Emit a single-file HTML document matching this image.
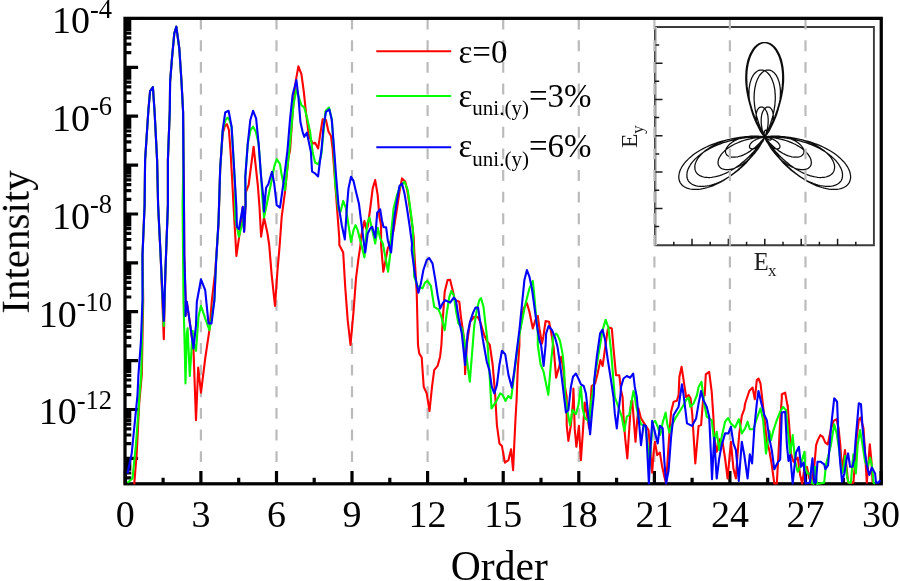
<!DOCTYPE html>
<html><head><meta charset="utf-8"><title>chart</title>
<style>html,body{margin:0;padding:0;background:#fff}body{width:900px;height:581px;overflow:hidden}</style></head>
<body>
<svg width="900" height="581" viewBox="0 0 900 581" style="display:block">
<rect width="900" height="581" fill="#fff"/>
<g opacity="0.9999">
<defs><filter id="bl" x="-5%" y="-5%" width="110%" height="110%"><feGaussianBlur stdDeviation="0.38"/></filter></defs>
<g id="inset" filter="url(#bl)">
<path d="M770.6,137.9 L770.8,138.0 L770.9,138.2 L771.0,138.3 L771.1,138.4 L771.1,138.6 L771.2,138.7 L771.2,138.8 L771.3,139.0 L771.3,139.1 L771.3,139.2 L771.2,139.3 L771.2,139.4 L771.1,139.5 L771.1,139.6 L771.0,139.7 L770.9,139.8 L770.8,139.9 L770.6,139.9 L770.5,140.0 L770.3,140.0 L770.1,140.0 L769.9,140.0 L769.7,140.0 L769.4,139.9 L769.2,139.9 L768.9,139.8 L768.7,139.7 L768.4,139.6 L768.1,139.5 L767.8,139.3 L767.5,139.2 L767.2,139.0 L766.9,138.8 L766.5,138.6 L766.2,138.3 L765.9,138.1 L765.5,137.8 L765.2,137.5 L764.9,137.2 L764.6,137.2 L764.5,137.7 L764.3,138.2 L764.1,138.7 L763.9,139.1 L763.7,139.6 L763.5,140.1 L763.2,140.6 L763.0,141.1 L762.7,141.5 L762.4,142.0 L762.1,142.5 L761.7,142.9 L761.4,143.4 L761.0,143.8 L760.7,144.3 L760.3,144.7 L759.9,145.1 L759.5,145.5 L759.1,145.8 L758.6,146.2 L758.2,146.5 L757.8,146.9 L757.3,147.2 L756.9,147.4 L756.4,147.7 L756.0,147.9 L755.6,148.1 L755.1,148.3 L754.7,148.5 L754.3,148.6 L753.9,148.7 L753.5,148.8 L753.1,148.9 L752.7,148.9 L752.3,148.9 L751.9,148.9 L751.6,148.8 L751.3,148.8 L751.0,148.7 L750.7,148.6 L750.5,148.4 L750.2,148.3 L750.0,148.1 L749.9,147.9 L749.7,147.6 L749.6,147.4 L749.5,147.1 L749.5,146.8 L749.5,146.5 L749.5,146.2 L749.5,145.9 L749.6,145.5 L749.7,145.2 L749.9,144.8 L750.1,144.5 L750.3,144.1 L750.6,143.7 L750.9,143.3 L751.2,142.9 L751.6,142.5 L752.0,142.1 L752.5,141.7 L753.0,141.3 L753.5,141.0 L754.1,140.6 L754.7,140.2 L755.4,139.9 L756.0,139.5 L756.7,139.2 L757.5,138.9 L758.2,138.6 L759.0,138.3 L759.8,138.0 L760.7,137.8 L761.6,137.6 L762.5,137.4 L763.4,137.2 L764.3,137.1 L764.3,136.6 L763.7,135.8 L763.1,135.1 L762.5,134.3 L761.9,133.5 L761.4,132.7 L760.8,131.8 L760.3,131.0 L759.8,130.1 L759.4,129.2 L758.9,128.3 L758.5,127.4 L758.1,126.4 L757.8,125.5 L757.5,124.6 L757.2,123.6 L756.9,122.7 L756.7,121.8 L756.5,120.9 L756.4,120.0 L756.3,119.1 L756.2,118.2 L756.1,117.3 L756.1,116.5 L756.1,115.7 L756.2,114.9 L756.2,114.1 L756.4,113.3 L756.5,112.6 L756.7,111.9 L756.9,111.3 L757.1,110.7 L757.3,110.1 L757.6,109.6 L757.9,109.1 L758.3,108.7 L758.6,108.3 L759.0,107.9 L759.3,107.6 L759.7,107.4 L760.1,107.2 L760.6,107.1 L761.0,107.0 L761.4,107.0 L761.9,107.0 L762.3,107.1 L762.7,107.2 L763.2,107.4 L763.6,107.7 L764.0,108.0 L764.5,108.4 L764.9,108.8 L765.3,109.3 L765.6,109.8 L766.0,110.4 L766.3,111.0 L766.7,111.7 L767.0,112.5 L767.2,113.3 L767.5,114.1 L767.7,115.0 L767.9,116.0 L768.0,117.0 L768.1,118.0 L768.2,119.0 L768.2,120.1 L768.2,121.3 L768.2,122.4 L768.1,123.6 L768.0,124.8 L767.8,126.1 L767.6,127.3 L767.4,128.6 L767.1,129.9 L766.7,131.2 L766.3,132.5 L765.9,133.9 L765.4,135.2 L764.9,136.5 L765.6,136.8 L767.0,136.6 L768.5,136.4 L769.9,136.3 L771.4,136.2 L772.8,136.1 L774.3,136.1 L775.8,136.1 L777.2,136.1 L778.7,136.2 L780.1,136.4 L781.6,136.6 L783.0,136.8 L784.4,137.0 L785.7,137.4 L787.1,137.7 L788.4,138.1 L789.6,138.5 L790.9,138.9 L792.0,139.4 L793.2,139.9 L794.3,140.5 L795.3,141.0 L796.3,141.6 L797.3,142.2 L798.2,142.9 L799.0,143.5 L799.8,144.2 L800.5,144.9 L801.1,145.6 L801.7,146.3 L802.2,147.0 L802.7,147.7 L803.1,148.4 L803.4,149.1 L803.6,149.7 L803.8,150.4 L803.9,151.1 L803.9,151.7 L803.8,152.3 L803.7,152.9 L803.5,153.5 L803.2,154.0 L802.9,154.5 L802.5,155.0 L802.0,155.5 L801.5,155.8 L800.9,156.2 L800.2,156.5 L799.5,156.8 L798.7,157.0 L797.9,157.1 L797.0,157.2 L796.1,157.2 L795.1,157.2 L794.0,157.1 L793.0,157.0 L791.8,156.8 L790.7,156.5 L789.5,156.2 L788.3,155.8 L787.0,155.3 L785.7,154.8 L784.4,154.1 L783.1,153.5 L781.8,152.7 L780.5,151.9 L779.1,151.1 L777.8,150.1 L776.4,149.1 L775.1,148.1 L773.8,146.9 L772.5,145.7 L771.2,144.5 L769.9,143.2 L768.7,141.8 L767.4,140.4 L766.2,139.0 L765.1,137.5 L764.2,138.2 L763.3,139.9 L762.4,141.6 L761.5,143.3 L760.5,145.0 L759.5,146.6 L758.4,148.3 L757.3,149.8 L756.1,151.3 L755.0,152.8 L753.7,154.3 L752.5,155.7 L751.2,157.0 L749.9,158.3 L748.5,159.5 L747.2,160.7 L745.8,161.8 L744.4,162.8 L743.1,163.8 L741.7,164.7 L740.3,165.5 L738.9,166.2 L737.6,166.9 L736.2,167.5 L734.9,168.0 L733.6,168.5 L732.3,168.9 L731.0,169.2 L729.8,169.4 L728.6,169.6 L727.5,169.6 L726.4,169.6 L725.4,169.6 L724.4,169.4 L723.5,169.2 L722.6,168.9 L721.8,168.6 L721.1,168.2 L720.5,167.7 L719.9,167.2 L719.4,166.6 L718.9,165.9 L718.6,165.2 L718.3,164.5 L718.1,163.7 L718.1,162.9 L718.1,162.0 L718.2,161.1 L718.4,160.2 L718.6,159.2 L719.0,158.3 L719.5,157.3 L720.1,156.3 L720.8,155.2 L721.5,154.2 L722.4,153.2 L723.4,152.1 L724.4,151.1 L725.6,150.1 L726.8,149.1 L728.1,148.1 L729.6,147.1 L731.1,146.1 L732.6,145.2 L734.3,144.3 L736.1,143.5 L737.9,142.7 L739.8,141.9 L741.7,141.2 L743.7,140.5 L745.8,139.9 L748.0,139.3 L750.1,138.8 L752.4,138.3 L754.6,138.0 L757.0,137.6 L759.3,137.4 L761.7,137.2 L764.1,137.0 L763.7,135.6 L762.3,133.6 L761.0,131.5 L759.7,129.4 L758.5,127.3 L757.4,125.2 L756.3,123.0 L755.3,120.8 L754.4,118.6 L753.5,116.4 L752.7,114.2 L752.0,111.9 L751.3,109.7 L750.8,107.5 L750.3,105.3 L749.9,103.1 L749.5,101.0 L749.3,98.9 L749.1,96.8 L749.0,94.7 L749.0,92.8 L749.0,90.8 L749.1,88.9 L749.3,87.1 L749.6,85.4 L749.9,83.7 L750.3,82.1 L750.8,80.6 L751.3,79.2 L751.8,77.8 L752.5,76.6 L753.1,75.4 L753.9,74.4 L754.6,73.5 L755.4,72.6 L756.3,71.9 L757.1,71.3 L758.0,70.8 L758.9,70.4 L759.9,70.1 L760.8,70.0 L761.8,70.0 L762.7,70.2 L763.7,70.4 L764.6,70.8 L765.6,71.3 L766.5,71.9 L767.4,72.7 L768.2,73.5 L769.1,74.5 L769.9,75.5 L770.6,76.7 L771.3,78.0 L772.0,79.4 L772.6,81.0 L773.2,82.6 L773.7,84.3 L774.1,86.1 L774.5,88.0 L774.8,89.9 L775.0,92.0 L775.2,94.1 L775.3,96.3 L775.3,98.6 L775.2,100.9 L775.0,103.3 L774.8,105.7 L774.4,108.1 L774.0,110.6 L773.5,113.2 L772.9,115.7 L772.2,118.3 L771.4,120.9 L770.6,123.5 L769.6,126.1 L768.6,128.7 L767.5,131.3 L766.3,133.9 L765.0,136.5 L767.0,136.8 L769.8,136.6 L772.7,136.4 L775.6,136.4 L778.4,136.4 L781.3,136.5 L784.1,136.7 L787.0,137.0 L789.8,137.3 L792.5,137.8 L795.2,138.3 L797.9,138.8 L800.5,139.5 L803.0,140.2 L805.5,141.0 L807.9,141.9 L810.3,142.8 L812.5,143.8 L814.7,144.8 L816.7,145.9 L818.7,147.0 L820.6,148.2 L822.4,149.4 L824.0,150.6 L825.6,151.9 L827.0,153.2 L828.3,154.5 L829.5,155.8 L830.6,157.1 L831.6,158.5 L832.4,159.8 L833.1,161.1 L833.6,162.4 L834.1,163.7 L834.4,165.0 L834.6,166.2 L834.6,167.4 L834.5,168.5 L834.3,169.6 L834.0,170.7 L833.5,171.7 L833.0,172.6 L832.3,173.5 L831.5,174.3 L830.5,175.0 L829.5,175.6 L828.3,176.2 L827.1,176.6 L825.7,177.0 L824.3,177.3 L822.7,177.4 L821.1,177.5 L819.4,177.5 L817.6,177.3 L815.8,177.0 L813.8,176.7 L811.8,176.2 L809.8,175.6 L807.7,174.9 L805.6,174.0 L803.4,173.1 L801.2,172.0 L799.0,170.8 L796.7,169.5 L794.4,168.1 L792.2,166.5 L789.9,164.9 L787.7,163.1 L785.4,161.2 L783.2,159.3 L781.0,157.2 L778.8,155.0 L776.7,152.8 L774.6,150.4 L772.6,148.0 L770.6,145.4 L768.6,142.8 L766.8,140.2 L765.0,137.4 L763.4,139.4 L761.7,142.3 L760.0,145.1 L758.2,147.8 L756.3,150.5 L754.4,153.2 L752.3,155.7 L750.3,158.2 L748.1,160.6 L746.0,163.0 L743.7,165.2 L741.5,167.3 L739.2,169.4 L736.8,171.3 L734.5,173.1 L732.1,174.8 L729.8,176.5 L727.4,177.9 L725.0,179.3 L722.7,180.6 L720.3,181.7 L718.0,182.7 L715.8,183.6 L713.5,184.4 L711.3,185.0 L709.2,185.5 L707.1,185.9 L705.1,186.2 L703.2,186.4 L701.3,186.4 L699.5,186.3 L697.8,186.1 L696.3,185.8 L694.8,185.4 L693.4,184.9 L692.1,184.2 L691.0,183.5 L690.0,182.7 L689.1,181.8 L688.3,180.8 L687.7,179.6 L687.3,178.5 L687.0,177.2 L686.9,175.9 L686.9,174.5 L687.0,173.1 L687.3,171.7 L687.7,170.2 L688.3,168.6 L689.1,167.1 L690.0,165.5 L691.0,163.9 L692.2,162.3 L693.6,160.7 L695.0,159.1 L696.7,157.6 L698.5,156.0 L700.4,154.5 L702.4,153.0 L704.6,151.5 L706.9,150.1 L709.4,148.7 L711.9,147.4 L714.6,146.1 L717.4,144.9 L720.3,143.8 L723.3,142.7 L726.4,141.8 L729.5,140.9 L732.8,140.1 L736.1,139.3 L739.5,138.7 L742.9,138.2 L746.4,137.7 L749.9,137.4 L753.5,137.1 L757.1,137.0 L760.7,136.9 L764.3,137.0 L763.0,134.2 L761.1,131.1 L759.4,127.9 L757.7,124.7 L756.2,121.4 L754.7,118.2 L753.4,114.8 L752.1,111.5 L751.0,108.2 L750.0,104.9 L749.1,101.6 L748.3,98.3 L747.6,95.0 L747.0,91.8 L746.5,88.6 L746.2,85.5 L745.9,82.4 L745.8,79.4 L745.8,76.5 L745.9,73.6 L746.1,70.9 L746.4,68.2 L746.8,65.6 L747.3,63.2 L747.8,60.8 L748.5,58.6 L749.3,56.5 L750.1,54.5 L751.0,52.7 L752.0,51.0 L753.0,49.4 L754.1,48.0 L755.2,46.7 L756.4,45.6 L757.6,44.7 L758.9,43.9 L760.2,43.3 L761.5,42.9 L762.8,42.6 L764.2,42.5 L765.5,42.6 L766.8,42.9 L768.2,43.4 L769.5,44.0 L770.7,44.8 L772.0,45.7 L773.2,46.9 L774.3,48.1 L775.4,49.5 L776.4,51.1 L777.4,52.9 L778.3,54.7 L779.2,56.7 L779.9,58.9 L780.6,61.2 L781.2,63.5 L781.7,66.1 L782.1,68.7 L782.4,71.4 L782.6,74.3 L782.7,77.2 L782.6,80.2 L782.5,83.3 L782.3,86.4 L781.9,89.6 L781.4,92.9 L780.8,96.2 L780.1,99.6 L779.3,103.0 L778.3,106.4 L777.3,109.8 L776.1,113.2 L774.8,116.7 L773.4,120.1 L771.9,123.5 L770.3,126.9 L768.5,130.3 L766.7,133.6 L764.8,136.8 L768.3,136.8 L772.1,136.7 L775.8,136.7 L779.6,136.8 L783.3,137.0 L787.1,137.4 L790.7,137.8 L794.3,138.3 L797.9,139.0 L801.4,139.7 L804.8,140.5 L808.2,141.4 L811.4,142.4 L814.6,143.5 L817.7,144.7 L820.6,145.9 L823.5,147.2 L826.2,148.6 L828.8,150.0 L831.3,151.5 L833.7,153.1 L835.9,154.6 L837.9,156.2 L839.9,157.9 L841.6,159.6 L843.2,161.2 L844.7,162.9 L846.0,164.6 L847.2,166.3 L848.1,168.0 L849.0,169.7 L849.6,171.3 L850.1,173.0 L850.4,174.5 L850.6,176.1 L850.6,177.5 L850.5,179.0 L850.1,180.3 L849.7,181.6 L849.1,182.8 L848.3,183.9 L847.4,185.0 L846.3,185.9 L845.1,186.7 L843.8,187.5 L842.3,188.1 L840.7,188.6 L839.0,189.0 L837.2,189.3 L835.3,189.4 L833.2,189.4 L831.1,189.3 L828.9,189.1 L826.6,188.7 L824.3,188.2 L821.8,187.5 L819.4,186.7 L816.8,185.8 L814.2,184.7 L811.6,183.5 L809.0,182.1 L806.3,180.6 L803.6,179.0 L801.0,177.2 L798.3,175.3 L795.6,173.3 L792.9,171.1 L790.3,168.8 L787.7,166.4 L785.1,163.9 L782.6,161.3 L780.1,158.6 L777.7,155.7 L775.3,152.8 L773.1,149.8 L770.8,146.7 L768.7,143.5 L766.7,140.3 L764.7,137.0 L762.7,140.3 L760.7,143.5 L758.6,146.7 L756.3,149.8 L754.1,152.8 L751.7,155.7 L749.3,158.6 L746.8,161.3 L744.3,163.9 L741.7,166.4 L739.1,168.8 L736.5,171.1 L733.8,173.3 L731.1,175.3 L728.4,177.2 L725.8,179.0 L723.1,180.6 L720.4,182.1 L717.8,183.5 L715.2,184.7 L712.6,185.8 L710.0,186.7 L707.6,187.5 L705.1,188.2 L702.8,188.7 L700.5,189.1 L698.3,189.3 L696.2,189.4 L694.1,189.4 L692.2,189.3 L690.4,189.0 L688.7,188.6 L687.1,188.1 L685.6,187.5 L684.3,186.7 L683.1,185.9 L682.0,185.0 L681.1,183.9 L680.3,182.8 L679.7,181.6 L679.3,180.3 L678.9,179.0 L678.8,177.5 L678.8,176.1 L679.0,174.5 L679.3,173.0 L679.8,171.3 L680.4,169.7 L681.3,168.0 L682.2,166.3 L683.4,164.6 L684.7,162.9 L686.2,161.2 L687.8,159.6 L689.5,157.9 L691.5,156.2 L693.5,154.6 L695.7,153.1 L698.1,151.5 L700.6,150.0 L703.2,148.6 L705.9,147.2 L708.8,145.9 L711.7,144.7 L714.8,143.5 L718.0,142.4 L721.2,141.4 L724.6,140.5 L728.0,139.7 L731.5,139.0 L735.1,138.3 L738.7,137.8 L742.3,137.4 L746.1,137.0 L749.8,136.8 L753.6,136.7 L757.3,136.7 L761.1,136.8 L764.6,136.8 L762.7,133.6 L760.9,130.3 L759.1,126.9 L757.5,123.5 L756.0,120.1 L754.6,116.7 L753.3,113.2 L752.1,109.8 L751.1,106.4 L750.1,103.0 L749.3,99.6 L748.6,96.2 L748.0,92.9 L747.5,89.6 L747.1,86.4 L746.9,83.3 L746.8,80.2 L746.7,77.2 L746.8,74.3 L747.0,71.4 L747.3,68.7 L747.7,66.1 L748.2,63.5 L748.8,61.2 L749.5,58.9 L750.2,56.7 L751.1,54.7 L752.0,52.9 L753.0,51.1 L754.0,49.5 L755.1,48.1 L756.2,46.9 L757.4,45.7 L758.7,44.8 L759.9,44.0 L761.2,43.4 L762.6,42.9 L763.9,42.6 L765.2,42.5 L766.6,42.6 L767.9,42.9 L769.2,43.3 L770.5,43.9 L771.8,44.7 L773.0,45.6 L774.2,46.7 L775.3,48.0 L776.4,49.4 L777.4,51.0 L778.4,52.7 L779.3,54.5 L780.1,56.5 L780.9,58.6 L781.6,60.8 L782.1,63.2 L782.6,65.6 L783.0,68.2 L783.3,70.9 L783.5,73.6 L783.6,76.5 L783.6,79.4 L783.5,82.4 L783.2,85.5 L782.9,88.6 L782.4,91.8 L781.8,95.0 L781.1,98.3 L780.3,101.6 L779.4,104.9 L778.4,108.2 L777.3,111.5 L776.0,114.8 L774.7,118.2 L773.2,121.4 L771.7,124.7 L770.0,127.9 L768.3,131.1 L766.4,134.2 L765.1,137.0 L768.7,136.9 L772.3,137.0 L775.9,137.1 L779.5,137.4 L783.0,137.7 L786.5,138.2 L789.9,138.7 L793.3,139.3 L796.6,140.1 L799.9,140.9 L803.0,141.8 L806.1,142.7 L809.1,143.8 L812.0,144.9 L814.8,146.1 L817.5,147.4 L820.0,148.7 L822.5,150.1 L824.8,151.5 L827.0,153.0 L829.0,154.5 L830.9,156.0 L832.7,157.6 L834.4,159.1 L835.8,160.7 L837.2,162.3 L838.4,163.9 L839.4,165.5 L840.3,167.1 L841.1,168.6 L841.7,170.2 L842.1,171.7 L842.4,173.1 L842.5,174.5 L842.5,175.9 L842.4,177.2 L842.1,178.5 L841.7,179.6 L841.1,180.8 L840.3,181.8 L839.4,182.7 L838.4,183.5 L837.3,184.2 L836.0,184.9 L834.6,185.4 L833.1,185.8 L831.6,186.1 L829.9,186.3 L828.1,186.4 L826.2,186.4 L824.3,186.2 L822.3,185.9 L820.2,185.5 L818.1,185.0 L815.9,184.4 L813.6,183.6 L811.4,182.7 L809.1,181.7 L806.7,180.6 L804.4,179.3 L802.0,177.9 L799.6,176.5 L797.3,174.8 L794.9,173.1 L792.6,171.3 L790.2,169.4 L787.9,167.3 L785.7,165.2 L783.4,163.0 L781.3,160.6 L779.1,158.2 L777.1,155.7 L775.0,153.2 L773.1,150.5 L771.2,147.8 L769.4,145.1 L767.7,142.3 L766.0,139.4 L764.4,137.4 L762.6,140.2 L760.8,142.8 L758.8,145.4 L756.8,148.0 L754.8,150.4 L752.7,152.8 L750.6,155.0 L748.4,157.2 L746.2,159.3 L744.0,161.2 L741.7,163.1 L739.5,164.9 L737.2,166.5 L735.0,168.1 L732.7,169.5 L730.4,170.8 L728.2,172.0 L726.0,173.1 L723.8,174.0 L721.7,174.9 L719.6,175.6 L717.6,176.2 L715.6,176.7 L713.6,177.0 L711.8,177.3 L710.0,177.5 L708.3,177.5 L706.7,177.4 L705.1,177.3 L703.7,177.0 L702.3,176.6 L701.1,176.2 L699.9,175.6 L698.9,175.0 L697.9,174.3 L697.1,173.5 L696.4,172.6 L695.9,171.7 L695.4,170.7 L695.1,169.6 L694.9,168.5 L694.8,167.4 L694.8,166.2 L695.0,165.0 L695.3,163.7 L695.8,162.4 L696.3,161.1 L697.0,159.8 L697.8,158.5 L698.8,157.1 L699.9,155.8 L701.1,154.5 L702.4,153.2 L703.8,151.9 L705.4,150.6 L707.0,149.4 L708.8,148.2 L710.7,147.0 L712.7,145.9 L714.7,144.8 L716.9,143.8 L719.1,142.8 L721.5,141.9 L723.9,141.0 L726.4,140.2 L728.9,139.5 L731.5,138.8 L734.2,138.3 L736.9,137.8 L739.6,137.3 L742.4,137.0 L745.3,136.7 L748.1,136.5 L751.0,136.4 L753.8,136.4 L756.7,136.4 L759.6,136.6 L762.4,136.8 L764.4,136.5 L763.1,133.9 L761.9,131.3 L760.8,128.7 L759.8,126.1 L758.8,123.5 L758.0,120.9 L757.2,118.3 L756.5,115.7 L755.9,113.2 L755.4,110.6 L755.0,108.1 L754.6,105.7 L754.4,103.3 L754.2,100.9 L754.1,98.6 L754.1,96.3 L754.2,94.1 L754.4,92.0 L754.6,89.9 L754.9,88.0 L755.3,86.1 L755.7,84.3 L756.2,82.6 L756.8,81.0 L757.4,79.4 L758.1,78.0 L758.8,76.7 L759.5,75.5 L760.3,74.5 L761.2,73.5 L762.0,72.7 L762.9,71.9 L763.8,71.3 L764.8,70.8 L765.7,70.4 L766.7,70.2 L767.6,70.0 L768.6,70.0 L769.5,70.1 L770.5,70.4 L771.4,70.8 L772.3,71.3 L773.1,71.9 L774.0,72.6 L774.8,73.5 L775.5,74.4 L776.3,75.4 L776.9,76.6 L777.6,77.8 L778.1,79.2 L778.6,80.6 L779.1,82.1 L779.5,83.7 L779.8,85.4 L780.1,87.1 L780.3,88.9 L780.4,90.8 L780.4,92.8 L780.4,94.7 L780.3,96.8 L780.1,98.9 L779.9,101.0 L779.5,103.1 L779.1,105.3 L778.6,107.5 L778.1,109.7 L777.4,111.9 L776.7,114.2 L775.9,116.4 L775.0,118.6 L774.1,120.8 L773.1,123.0 L772.0,125.2 L770.9,127.3 L769.7,129.4 L768.4,131.5 L767.1,133.6 L765.7,135.6 L765.3,137.0 L767.7,137.2 L770.1,137.4 L772.4,137.6 L774.8,138.0 L777.0,138.3 L779.3,138.8 L781.4,139.3 L783.6,139.9 L785.7,140.5 L787.7,141.2 L789.6,141.9 L791.5,142.7 L793.3,143.5 L795.1,144.3 L796.8,145.2 L798.3,146.1 L799.8,147.1 L801.3,148.1 L802.6,149.1 L803.8,150.1 L805.0,151.1 L806.0,152.1 L807.0,153.2 L807.9,154.2 L808.6,155.2 L809.3,156.3 L809.9,157.3 L810.4,158.3 L810.8,159.2 L811.0,160.2 L811.2,161.1 L811.3,162.0 L811.3,162.9 L811.3,163.7 L811.1,164.5 L810.8,165.2 L810.5,165.9 L810.0,166.6 L809.5,167.2 L808.9,167.7 L808.3,168.2 L807.6,168.6 L806.8,168.9 L805.9,169.2 L805.0,169.4 L804.0,169.6 L803.0,169.6 L801.9,169.6 L800.8,169.6 L799.6,169.4 L798.4,169.2 L797.1,168.9 L795.8,168.5 L794.5,168.0 L793.2,167.5 L791.8,166.9 L790.5,166.2 L789.1,165.5 L787.7,164.7 L786.3,163.8 L785.0,162.8 L783.6,161.8 L782.2,160.7 L780.9,159.5 L779.5,158.3 L778.2,157.0 L776.9,155.7 L775.7,154.3 L774.4,152.8 L773.3,151.3 L772.1,149.8 L771.0,148.3 L769.9,146.6 L768.9,145.0 L767.9,143.3 L767.0,141.6 L766.1,139.9 L765.2,138.2 L764.3,137.5 L763.2,139.0 L762.0,140.4 L760.7,141.8 L759.5,143.2 L758.2,144.5 L756.9,145.7 L755.6,146.9 L754.3,148.1 L753.0,149.1 L751.6,150.1 L750.3,151.1 L748.9,151.9 L747.6,152.7 L746.3,153.5 L745.0,154.1 L743.7,154.8 L742.4,155.3 L741.1,155.8 L739.9,156.2 L738.7,156.5 L737.6,156.8 L736.4,157.0 L735.4,157.1 L734.3,157.2 L733.3,157.2 L732.4,157.2 L731.5,157.1 L730.7,157.0 L729.9,156.8 L729.2,156.5 L728.5,156.2 L727.9,155.8 L727.4,155.5 L726.9,155.0 L726.5,154.5 L726.2,154.0 L725.9,153.5 L725.7,152.9 L725.6,152.3 L725.5,151.7 L725.5,151.1 L725.6,150.4 L725.8,149.7 L726.0,149.1 L726.3,148.4 L726.7,147.7 L727.2,147.0 L727.7,146.3 L728.3,145.6 L728.9,144.9 L729.6,144.2 L730.4,143.5 L731.2,142.9 L732.1,142.2 L733.1,141.6 L734.1,141.0 L735.1,140.5 L736.2,139.9 L737.4,139.4 L738.5,138.9 L739.8,138.5 L741.0,138.1 L742.3,137.7 L743.7,137.4 L745.0,137.0 L746.4,136.8 L747.8,136.6 L749.3,136.4 L750.7,136.2 L752.2,136.1 L753.6,136.1 L755.1,136.1 L756.6,136.1 L758.0,136.2 L759.5,136.3 L760.9,136.4 L762.4,136.6 L763.8,136.8 L764.5,136.5 L764.0,135.2 L763.5,133.9 L763.1,132.5 L762.7,131.2 L762.3,129.9 L762.0,128.6 L761.8,127.3 L761.6,126.1 L761.4,124.8 L761.3,123.6 L761.2,122.4 L761.2,121.3 L761.2,120.1 L761.2,119.0 L761.3,118.0 L761.4,117.0 L761.5,116.0 L761.7,115.0 L761.9,114.1 L762.2,113.3 L762.4,112.5 L762.7,111.7 L763.1,111.0 L763.4,110.4 L763.8,109.8 L764.1,109.3 L764.5,108.8 L764.9,108.4 L765.4,108.0 L765.8,107.7 L766.2,107.4 L766.7,107.2 L767.1,107.1 L767.5,107.0 L768.0,107.0 L768.4,107.0 L768.8,107.1 L769.3,107.2 L769.7,107.4 L770.1,107.6 L770.4,107.9 L770.8,108.3 L771.1,108.7 L771.5,109.1 L771.8,109.6 L772.1,110.1 L772.3,110.7 L772.5,111.3 L772.7,111.9 L772.9,112.6 L773.0,113.3 L773.2,114.1 L773.2,114.9 L773.3,115.7 L773.3,116.5 L773.3,117.3 L773.2,118.2 L773.1,119.1 L773.0,120.0 L772.9,120.9 L772.7,121.8 L772.5,122.7 L772.2,123.6 L771.9,124.6 L771.6,125.5 L771.3,126.4 L770.9,127.4 L770.5,128.3 L770.0,129.2 L769.6,130.1 L769.1,131.0 L768.6,131.8 L768.0,132.7 L767.5,133.5 L766.9,134.3 L766.3,135.1 L765.7,135.8 L765.1,136.6 L765.1,137.1 L766.0,137.2 L766.9,137.4 L767.8,137.6 L768.7,137.8 L769.6,138.0 L770.4,138.3 L771.2,138.6 L771.9,138.9 L772.7,139.2 L773.4,139.5 L774.0,139.9 L774.7,140.2 L775.3,140.6 L775.9,141.0 L776.4,141.3 L776.9,141.7 L777.4,142.1 L777.8,142.5 L778.2,142.9 L778.5,143.3 L778.8,143.7 L779.1,144.1 L779.3,144.5 L779.5,144.8 L779.7,145.2 L779.8,145.5 L779.9,145.9 L779.9,146.2 L779.9,146.5 L779.9,146.8 L779.9,147.1 L779.8,147.4 L779.7,147.6 L779.5,147.9 L779.4,148.1 L779.2,148.3 L778.9,148.4 L778.7,148.6 L778.4,148.7 L778.1,148.8 L777.8,148.8 L777.5,148.9 L777.1,148.9 L776.7,148.9 L776.3,148.9 L775.9,148.8 L775.5,148.7 L775.1,148.6 L774.7,148.5 L774.3,148.3 L773.8,148.1 L773.4,147.9 L773.0,147.7 L772.5,147.4 L772.1,147.2 L771.6,146.9 L771.2,146.5 L770.8,146.2 L770.3,145.8 L769.9,145.5 L769.5,145.1 L769.1,144.7 L768.7,144.3 L768.4,143.8 L768.0,143.4 L767.7,142.9 L767.3,142.5 L767.0,142.0 L766.7,141.5 L766.4,141.1 L766.2,140.6 L765.9,140.1 L765.7,139.6 L765.5,139.1 L765.3,138.7 L765.1,138.2 L764.9,137.7 L764.8,137.2 L764.6,136.8 L764.5,136.3 L764.4,135.9 L764.4,135.5 L764.3,135.0 L764.2,134.6 L764.2,134.2 L764.2,133.9 L764.2,133.5 L764.2,133.1 L764.2,132.8 L764.3,132.5 L764.3,132.2 L764.4,131.9 L764.5,131.7 L764.5,131.4 L764.6,131.2 L764.7,131.0 L764.8,130.8 L764.9,130.7 L765.0,130.5 L765.1,130.4 L765.3,130.3 L765.4,130.3 L765.5,130.2 L765.6,130.2 L765.7,130.1 L765.8,130.1 L766.0,130.2 L766.1,130.2 L766.2,130.3 L766.3,130.3 L766.4,130.4 L766.5,130.5 L766.6,130.6 L766.6,130.8 L766.7,130.9 L766.8,131.1 L766.8,131.2 L766.9,131.4" fill="none" stroke="#0c0c0c" stroke-width="1.25" stroke-linejoin="round"/>
<path d="M654.5,27.0 H873.9 V245.3 H654.5" fill="none" stroke="#3a3a3a" stroke-width="1.9"/>
<line x1="655.9" y1="27.0" x2="655.9" y2="245.3" stroke="#c6c6c6" stroke-width="2.2"/>
<line x1="654.8" y1="27.0" x2="654.8" y2="245.3" stroke="#111" stroke-width="1.1"/>
<path d="M655.0,45.0 h4.2 M655.0,63.2 h7.5 M655.0,81.3 h4.2 M655.0,99.5 h7.5 M655.0,117.6 h4.2 M655.0,135.8 h7.5 M655.0,154.0 h4.2 M655.0,172.1 h7.5 M655.0,190.3 h4.2 M655.0,208.4 h7.5 M655.0,226.6 h4.2 M673.8,245.3 v-3.6 M692.0,245.3 v-6.5 M710.2,245.3 v-3.6 M728.4,245.3 v-6.5 M746.6,245.3 v-3.6 M764.8,245.3 v-6.5 M783.0,245.3 v-3.6 M801.2,245.3 v-6.5 M819.4,245.3 v-3.6 M837.6,245.3 v-6.5 M855.8,245.3 v-3.6" stroke="#1a1a1a" stroke-width="1.5" fill="none"/>
</g>
<g stroke="#bbbbbb" stroke-width="2.2" stroke-dasharray="10.85 10.78" fill="none"><line x1="200.9" y1="18.65" x2="200.9" y2="480" /><line x1="276.5" y1="18.65" x2="276.5" y2="480" /><line x1="352.0" y1="18.65" x2="352.0" y2="480" /><line x1="427.6" y1="18.65" x2="427.6" y2="480" /><line x1="503.2" y1="18.65" x2="503.2" y2="480" /><line x1="578.8" y1="18.65" x2="578.8" y2="480" /><line x1="654.4" y1="18.65" x2="654.4" y2="480" /><line x1="729.9" y1="18.65" x2="729.9" y2="480" /><line x1="805.5" y1="18.65" x2="805.5" y2="480" /></g>
<g font-family="Liberation Serif, serif" fill="#1c1c1c">
<text x="753.8" y="269.8" font-size="24.5">E<tspan font-size="17" dy="6.2" dx="-0.8">x</tspan></text>
<text transform="translate(636.5,148) rotate(-90)" font-size="23.5">E<tspan font-size="17" dy="6.5">y</tspan></text>
</g>
<rect x="125.0" y="18.35" width="756.25" height="465.45" fill="none" stroke="#000" stroke-width="3.25"/>
<path d="M125.3,18.5 h12.8 M125.3,52.7 h6 M125.3,44.1 h6 M125.3,37.9 h6 M125.3,33.2 h6 M125.3,29.3 h6 M125.3,26.1 h6 M125.3,23.2 h6 M125.3,20.7 h6 M125.3,67.4 h12.8 M125.3,101.5 h6 M125.3,92.9 h6 M125.3,86.8 h6 M125.3,82.1 h6 M125.3,78.2 h6 M125.3,74.9 h6 M125.3,72.1 h6 M125.3,69.6 h6 M125.3,116.2 h12.8 M125.3,150.4 h6 M125.3,141.8 h6 M125.3,135.7 h6 M125.3,131.0 h6 M125.3,127.1 h6 M125.3,123.8 h6 M125.3,121.0 h6 M125.3,118.5 h6 M125.3,165.1 h12.8 M125.3,199.3 h6 M125.3,190.7 h6 M125.3,184.6 h6 M125.3,179.8 h6 M125.3,176.0 h6 M125.3,172.7 h6 M125.3,169.8 h6 M125.3,167.3 h6 M125.3,214.0 h12.8 M125.3,248.1 h6 M125.3,239.5 h6 M125.3,233.4 h6 M125.3,228.7 h6 M125.3,224.8 h6 M125.3,221.6 h6 M125.3,218.7 h6 M125.3,216.2 h6 M125.3,262.9 h12.8 M125.3,297.0 h6 M125.3,288.4 h6 M125.3,282.3 h6 M125.3,277.6 h6 M125.3,273.7 h6 M125.3,270.4 h6 M125.3,267.6 h6 M125.3,265.1 h6 M125.3,311.7 h12.8 M125.3,345.9 h6 M125.3,337.3 h6 M125.3,331.2 h6 M125.3,326.4 h6 M125.3,322.6 h6 M125.3,319.3 h6 M125.3,316.5 h6 M125.3,314.0 h6 M125.3,360.6 h12.8 M125.3,394.7 h6 M125.3,386.1 h6 M125.3,380.0 h6 M125.3,375.3 h6 M125.3,371.4 h6 M125.3,368.2 h6 M125.3,365.3 h6 M125.3,362.8 h6 M125.3,409.5 h12.8 M125.3,443.6 h6 M125.3,435.0 h6 M125.3,428.9 h6 M125.3,424.2 h6 M125.3,420.3 h6 M125.3,417.0 h6 M125.3,414.2 h6 M125.3,411.7 h6 M125.3,458.3 h12.8 M125.3,477.8 h6 M125.3,473.0 h6 M125.3,469.2 h6 M125.3,465.9 h6 M125.3,463.1 h6 M125.3,460.6 h6 M125.3,483.7 v-12.8 M200.9,483.7 v-12.8 M276.5,483.7 v-12.8 M352.0,483.7 v-12.8 M427.6,483.7 v-12.8 M503.2,483.7 v-12.8 M578.8,483.7 v-12.8 M654.4,483.7 v-12.8 M729.9,483.7 v-12.8 M805.5,483.7 v-12.8 M881.1,483.7 v-12.8 M163.1,483.7 v-6 M238.7,483.7 v-6 M314.2,483.7 v-6 M389.8,483.7 v-6 M465.4,483.7 v-6 M541.0,483.7 v-6 M616.6,483.7 v-6 M692.1,483.7 v-6 M767.7,483.7 v-6 M843.3,483.7 v-6" stroke="#000" stroke-width="3.2" fill="none"/>
<path d="M134.2,484.4 L136.7,453.5 L139.2,403.4 L141.8,375.0 L143.2,300.0 L142.5,255.1 L144.6,205.0 L145.1,160.1 L148.4,110.0 L150.1,91.0 L152.9,87.2 L154.6,112.0 L157.1,160.1 L158.1,205.0 L160.6,255.1 L163.8,339.3 L165.4,271.8 L167.9,205.0 L167.9,160.1 L169.8,110.0 L170.1,81.8 L172.1,56.8 L174.3,33.4 L176.3,26.7 L179.3,48.4 L181.5,81.8 L183.1,112.0 L183.5,160.1 L184.0,207.0 L184.3,255.1 L185.6,298.5 L185.5,315.9 L186.8,301.7 L190.2,325.1 L193.5,350.1 L196.0,420.1 L198.2,367.6 L201.0,392.7 L205.2,358.5 L209.4,330.1 L211.9,300.0 L215.2,271.8 L218.5,225.0 L220.2,168.5 L222.7,133.4 L224.9,125.9 L226.9,124.2 L228.9,130.0 L230.6,151.8 L232.2,180.2 L233.6,207.0 L236.4,255.9 L239.4,235.1 L242.8,206.7 L244.1,231.7 L245.6,205.0 L245.5,193.0 L248.6,185.2 L253.6,146.7 L257.8,185.2 L259.5,207.0 L261.1,236.7 L264.0,217.5 L267.5,233.5 L269.2,245.0 L271.7,275.1 L275.0,306.0 L277.5,270.1 L279.7,245.0 L281.7,216.8 L285.0,191.8 L288.4,158.4 L290.1,150.0 L292.6,113.5 L295.9,80.1 L298.4,66.4 L301.4,74.2 L303.8,91.7 L305.9,111.8 L308.8,135.2 L312.6,143.5 L315.1,142.7 L318.1,148.5 L320.1,135.2 L322.6,119.3 L326.0,120.1 L328.5,131.8 L331.0,136.0 L332.6,148.5 L335.2,183.4 L337.7,216.8 L339.3,238.5 L339.3,245.0 L343.2,252.5 L345.2,286.8 L347.7,320.2 L350.5,345.0 L353.5,311.8 L356.0,278.4 L358.5,258.4 L360.5,245.0 L361.0,236.9 L364.4,221.0 L366.1,228.5 L367.7,226.8 L370.2,208.5 L372.7,188.4 L375.2,180.1 L377.7,195.1 L379.4,216.8 L381.1,225.2 L381.1,245.0 L383.3,271.7 L385.3,261.7 L387.8,248.3 L389.4,245.0 L393.6,230.2 L397.0,208.5 L399.5,191.8 L402.0,178.4 L405.3,181.7 L407.8,193.4 L411.1,216.8 L413.7,236.9 L414.2,250.0 L416.7,291.8 L418.0,345.0 L419.2,353.4 L421.7,357.5 L423.7,386.8 L426.7,393.4 L429.5,411.0 L432.0,386.8 L434.2,370.1 L437.6,365.9 L440.1,356.7 L441.4,345.0 L442.6,321.8 L444.7,291.8 L447.6,280.1 L450.1,279.7 L452.6,290.1 L454.8,300.1 L459.3,301.8 L460.9,316.8 L462.6,328.5 L464.3,340.2 L465.1,374.2 L466.8,345.0 L470.1,321.8 L474.3,316.8 L477.6,316.8 L480.2,321.8 L484.3,335.2 L486.8,341.0 L489.8,345.0 L492.7,365.0 L495.2,395.1 L496.9,425.1 L499.4,443.4 L501.9,445.9 L504.9,462.6 L508.5,460.1 L511.1,449.3 L513.1,470.2 L514.4,441.8 L515.6,416.7 L516.6,400.0 L517.7,370.1 L519.4,345.0 L519.4,333.5 L523.6,308.5 L526.9,303.1 L529.4,311.8 L532.8,328.5 L535.3,320.2 L537.8,316.0 L539.4,328.5 L542.0,343.5 L543.3,336.9 L545.6,321.0 L549.0,321.8 L551.1,331.8 L553.6,347.0 L556.1,377.6 L559.2,366.8 L561.3,356.8 L563.4,370.2 L565.0,386.9 L566.7,397.0 L566.7,425.1 L568.4,440.9 L570.9,425.1 L573.0,401.7 L573.4,388.5 L573.7,395.0 L574.7,428.4 L576.4,446.8 L578.9,425.9 L580.9,460.1 L583.1,428.4 L584.7,402.5 L586.7,413.4 L589.2,428.4 L590.9,397.0 L591.7,386.0 L595.1,383.5 L597.6,373.5 L600.4,360.1 L602.6,366.0 L605.1,348.4 L607.6,330.1 L609.3,327.6 L611.8,328.4 L613.5,348.4 L616.0,375.2 L619.3,375.2 L621.0,390.2 L622.6,397.0 L623.5,416.7 L625.2,438.4 L627.3,458.5 L629.3,428.4 L631.0,401.7 L632.2,400.0 L633.8,420.1 L635.5,441.8 L637.2,420.1 L638.5,408.4 L641.0,418.4 L648.5,430.1 L650.2,450.1 L652.2,472.7 L653.5,453.5 L654.9,441.8 L657.2,455.1 L659.9,452.6 L661.9,465.2 L664.4,476.8 L666.1,483.5 L668.6,445.1 L671.1,411.7 L673.6,401.7 L676.9,400.8 L678.6,395.0 L679.4,376.8 L681.6,366.8 L683.6,380.2 L686.1,397.0 L688.6,395.0 L690.6,398.3 L692.3,415.0 L695.3,463.5 L698.6,425.9 L701.1,425.1 L702.8,403.4 L703.7,395.0 L704.7,395.2 L705.8,374.3 L709.2,371.8 L711.7,391.8 L713.4,417.0 L714.2,436.8 L716.7,451.8 L719.7,439.3 L722.5,441.8 L725.1,458.5 L727.6,478.5 L730.9,441.8 L733.4,468.5 L735.9,478.5 L737.6,453.5 L739.3,433.4 L741.8,415.9 L744.3,409.2 L745.1,403.5 L749.3,391.0 L752.6,387.6 L754.8,399.3 L756.8,380.1 L758.5,378.5 L760.5,383.5 L762.6,401.8 L764.3,417.0 L766.8,441.8 L769.3,450.1 L771.8,465.2 L774.3,483.5 L776.8,483.5 L778.5,453.5 L780.2,420.1 L781.8,398.3 L781.8,394.3 L785.2,392.7 L787.7,406.9 L787.7,405.0 L789.4,428.4 L791.0,453.5 L793.5,461.8 L797.7,457.6 L800.2,475.2 L802.2,483.5 L804.4,468.5 L806.9,466.8 L809.4,478.5 L811.1,483.5 L814.4,465.2 L816.1,445.1 L817.8,440.1 L820.3,435.1 L822.8,436.8 L825.3,442.6 L827.8,444.3 L831.1,428.4 L833.6,420.9 L836.6,419.2 L838.6,428.4 L840.3,445.1 L842.0,470.2 L843.3,461.8 L845.0,450.1 L846.4,465.1 L848.1,482.6 L853.4,482.6 L855.1,461.8 L856.8,436.7 L858.8,420.0 L860.5,417.5 L863.5,428.4 L865.1,453.4 L866.8,482.6 L868.5,461.8 L869.8,444.2 L871.5,461.8 L872.6,482.6" fill="none" stroke="#ff0000" stroke-width="2.1" stroke-linejoin="round" stroke-linecap="butt"/>
<path d="M127.5,482.7 L132.5,478.5 L135.9,445.1 L138.4,411.7 L139.5,395.0 L141.2,375.0 L142.8,300.0 L142.5,255.1 L144.6,205.0 L145.1,160.1 L148.4,110.0 L150.1,91.0 L152.9,87.2 L154.6,112.0 L157.1,160.1 L158.1,205.0 L160.6,255.1 L163.8,325.9 L165.4,271.8 L167.9,205.0 L167.9,160.1 L169.8,110.0 L170.1,81.8 L172.1,56.8 L174.3,33.4 L176.3,26.7 L179.3,48.4 L181.5,81.8 L183.1,112.0 L183.5,160.1 L182.6,205.0 L183.5,302.0 L184.8,350.1 L185.5,383.5 L186.8,333.4 L187.6,328.4 L189.8,376.0 L192.7,330.9 L193.5,341.8 L196.0,350.9 L198.5,316.7 L201.0,305.8 L205.2,318.4 L209.4,330.1 L211.9,316.7 L214.4,300.0 L216.0,263.5 L218.5,221.7 L220.2,168.5 L222.7,130.0 L225.6,120.0 L227.4,117.5 L229.4,120.0 L231.6,126.7 L233.6,160.1 L235.2,190.2 L235.2,218.4 L238.9,236.7 L242.8,221.7 L245.6,205.0 L245.3,176.8 L247.8,143.4 L250.6,130.0 L253.1,126.7 L255.8,131.7 L258.6,143.4 L261.1,176.8 L262.3,196.9 L264.0,217.5 L268.3,196.8 L271.7,180.1 L274.2,166.7 L276.7,159.2 L280.0,164.2 L281.7,175.1 L285.0,190.1 L287.5,166.7 L289.2,152.0 L293.4,105.1 L296.4,89.2 L299.2,98.4 L301.4,105.1 L304.3,107.6 L306.8,116.8 L310.1,131.8 L312.6,152.0 L315.1,162.5 L318.4,164.2 L321.0,156.7 L321.8,150.0 L325.5,111.0 L329.0,107.6 L331.8,119.3 L334.0,152.0 L335.2,183.4 L338.5,210.1 L340.5,211.8 L343.2,200.9 L346.0,208.5 L348.5,225.2 L351.0,241.9 L353.5,230.2 L355.5,225.2 L357.7,230.2 L361.0,243.5 L364.4,257.5 L367.2,223.5 L369.4,217.6 L371.9,228.5 L375.2,243.5 L377.7,227.7 L380.2,238.5 L382.8,243.5 L385.3,256.7 L388.1,271.7 L390.3,253.4 L391.1,233.5 L393.6,208.5 L397.0,195.1 L400.3,185.9 L404.5,181.7 L407.8,190.1 L410.3,208.5 L412.8,228.5 L413.5,250.0 L414.2,276.7 L417.5,285.9 L422.5,288.4 L425.0,282.6 L427.5,280.9 L430.9,285.9 L434.2,306.8 L438.4,309.3 L440.9,315.1 L444.7,330.2 L446.7,313.5 L449.3,296.8 L451.4,290.9 L453.8,295.1 L455.9,310.1 L458.4,323.5 L462.1,328.5 L464.3,340.2 L469.8,381.7 L474.3,325.2 L476.8,310.1 L479.3,300.1 L481.0,298.1 L483.5,306.8 L485.2,321.8 L487.2,338.5 L489.8,378.4 L491.5,408.5 L496.0,401.8 L500.2,393.4 L502.7,395.1 L505.5,401.0 L508.2,395.9 L511.1,398.4 L512.7,386.8 L514.7,370.1 L517.2,350.0 L520.2,330.2 L525.2,305.1 L529.4,288.4 L532.8,280.9 L534.4,296.8 L536.1,316.8 L537.8,333.5 L537.8,345.0 L540.6,364.7 L543.6,371.7 L548.3,394.8 L551.1,361.7 L552.8,345.0 L552.8,336.9 L556.1,333.5 L557.5,335.1 L560.0,340.9 L562.5,353.4 L564.2,370.2 L565.0,395.0 L567.5,411.7 L570.0,425.1 L572.5,410.0 L575.9,414.2 L578.4,405.0 L580.9,386.9 L582.6,408.4 L585.1,418.4 L587.6,420.1 L589.2,423.4 L590.9,403.4 L592.6,393.5 L595.1,375.2 L598.4,355.1 L602.6,330.1 L605.6,319.7 L608.4,327.6 L611.0,350.1 L612.6,370.2 L614.8,397.0 L621.8,416.7 L624.3,430.9 L626.8,416.7 L629.3,415.0 L631.8,400.0 L633.5,391.0 L634.8,396.7 L636.0,405.0 L638.5,416.7 L641.0,424.2 L645.2,425.9 L647.7,445.1 L649.4,468.5 L651.0,445.1 L652.7,422.6 L655.2,420.9 L657.7,426.7 L660.2,435.1 L662.7,422.6 L665.6,412.5 L667.2,423.4 L669.4,432.6 L671.9,425.1 L675.3,418.4 L679.4,411.7 L683.6,405.0 L686.1,400.0 L688.6,397.5 L690.3,406.7 L693.6,403.4 L697.0,395.0 L698.6,386.9 L701.5,381.8 L704.2,403.4 L706.7,416.7 L711.7,420.1 L714.2,441.8 L716.7,431.7 L719.2,450.1 L721.7,436.8 L725.1,421.7 L728.1,418.0 L730.9,423.4 L735.1,427.6 L738.8,419.2 L741.8,433.4 L745.1,428.4 L747.6,421.7 L749.8,429.2 L753.4,429.2 L756.8,418.4 L760.5,408.4 L763.1,420.1 L766.0,453.5 L769.3,430.9 L771.0,440.1 L773.5,430.1 L776.8,420.1 L780.2,411.7 L783.0,407.0 L786.0,410.0 L787.7,428.4 L790.2,453.5 L792.7,435.1 L795.2,461.8 L797.7,471.8 L800.2,466.8 L804.4,451.8 L805.4,468.5 L807.5,473.5 L809.7,473.5 L811.4,482.6 L813.5,484.0 L815.0,466.8 L817.0,484.0 L824.2,482.6 L825.9,465.1 L828.1,456.8 L830.9,445.1 L834.2,424.2 L836.7,433.4 L839.2,450.1 L841.8,473.5 L843.4,470.1 L845.1,455.9 L846.8,475.1 L848.4,482.6 L850.9,482.6 L852.6,461.8 L853.4,454.3 L855.9,473.5 L857.6,445.1 L860.1,430.1 L862.6,445.1 L865.1,461.8 L867.6,466.8 L870.1,457.6 L872.1,466.8 L873.5,482.6 L875.0,484.0" fill="none" stroke="#00ff00" stroke-width="2.1" stroke-linejoin="round" stroke-linecap="butt"/>
<path d="M127.5,473.5 L131.7,453.5 L135.0,420.1 L137.5,395.0 L138.4,375.2 L140.9,341.8 L142.5,300.0 L142.5,255.1 L144.6,205.0 L145.1,160.1 L148.4,110.0 L150.1,91.0 L152.9,87.2 L154.6,112.0 L157.1,160.1 L158.1,205.0 L160.6,255.1 L163.8,320.9 L165.4,271.8 L167.9,205.0 L167.9,160.1 L169.8,110.0 L170.1,81.8 L172.1,56.8 L174.3,33.4 L176.3,26.7 L179.3,48.4 L181.5,81.8 L183.1,112.0 L183.5,160.1 L184.0,207.0 L184.3,255.1 L185.6,298.5 L185.5,315.9 L186.8,301.7 L190.2,325.1 L193.5,348.4 L196.0,325.1 L196.8,302.0 L201.0,279.3 L205.2,290.2 L208.5,323.4 L211.5,323.4 L214.4,300.0 L216.0,263.5 L218.5,221.7 L220.2,168.5 L222.7,130.0 L225.2,112.5 L228.6,110.8 L231.6,126.7 L233.6,160.1 L236.4,207.0 L236.9,226.7 L238.9,229.2 L242.8,206.7 L244.1,231.7 L245.6,205.0 L245.3,176.8 L247.8,143.4 L250.3,120.0 L253.1,110.8 L256.1,118.4 L258.6,143.4 L261.1,176.8 L263.3,196.9 L264.0,211.7 L266.1,187.7 L268.3,184.2 L272.0,171.7 L274.2,183.4 L276.7,205.1 L280.0,207.6 L283.4,183.4 L285.9,163.4 L287.5,150.0 L290.1,118.5 L292.6,95.1 L296.4,80.1 L298.4,96.8 L300.4,121.8 L302.6,131.8 L304.3,136.8 L306.8,132.7 L308.8,141.9 L310.9,152.0 L312.1,171.7 L315.1,173.4 L318.1,176.4 L320.1,160.0 L321.5,150.0 L323.5,126.8 L326.0,111.8 L329.3,109.3 L331.8,120.1 L334.3,152.0 L336.0,175.1 L338.5,205.1 L341.8,225.2 L344.8,239.4 L346.8,208.5 L348.5,188.4 L351.0,176.7 L353.5,180.9 L356.0,191.8 L358.9,203.4 L361.0,220.2 L363.5,240.2 L365.2,252.5 L367.7,233.5 L370.2,228.5 L372.2,226.8 L375.2,237.7 L377.2,212.6 L380.2,209.3 L381.9,220.2 L383.6,227.2 L386.1,227.2 L387.8,240.2 L391.1,252.5 L394.4,216.8 L397.0,200.1 L399.5,185.9 L402.0,183.4 L404.5,193.4 L407.0,208.5 L409.5,225.2 L412.0,243.5 L411.7,250.0 L415.0,275.1 L418.4,292.6 L420.9,283.4 L423.4,270.0 L426.7,260.0 L429.2,258.0 L432.5,263.4 L435.1,278.4 L437.6,295.1 L440.1,308.5 L442.6,303.4 L445.1,300.1 L450.1,302.6 L453.8,297.6 L455.9,300.1 L458.4,316.8 L461.8,333.5 L465.1,365.0 L467.6,333.5 L470.1,321.8 L473.1,312.6 L475.5,307.6 L478.1,307.6 L480.2,321.8 L482.7,338.5 L486.8,361.7 L489.3,370.1 L491.8,386.8 L494.3,393.4 L496.9,385.1 L499.4,365.0 L501.9,350.8 L505.2,354.2 L508.5,375.1 L511.9,387.6 L514.4,370.1 L516.9,350.0 L519.4,330.2 L521.9,305.1 L524.4,280.1 L526.9,270.0 L529.4,276.7 L531.9,288.4 L534.4,306.8 L536.9,325.2 L539.4,340.2 L541.1,345.0 L543.6,365.9 L545.6,345.0 L546.1,333.5 L548.6,326.0 L552.0,330.2 L555.3,338.5 L557.5,346.8 L560.0,363.5 L562.5,383.5 L565.9,412.5 L568.4,410.0 L570.0,395.0 L570.9,386.9 L573.0,376.8 L575.9,373.5 L578.4,378.5 L580.9,384.3 L583.7,386.0 L585.9,393.5 L588.4,416.7 L590.1,434.3 L592.1,411.7 L593.8,395.0 L594.3,380.2 L596.8,356.8 L600.1,333.4 L602.6,329.7 L605.1,340.1 L607.6,358.5 L611.0,380.2 L613.5,397.0 L614.8,413.4 L616.8,428.4 L618.8,408.4 L620.5,395.0 L621.0,386.9 L623.5,378.5 L626.8,376.0 L630.2,377.7 L633.2,373.5 L634.8,386.9 L636.8,397.0 L638.5,416.7 L641.0,445.1 L643.5,425.1 L646.0,425.9 L648.9,483.5 L650.2,453.5 L652.2,420.9 L655.2,433.4 L657.7,443.4 L659.9,425.9 L662.7,428.4 L664.4,461.8 L666.1,483.5 L668.6,470.2 L671.1,436.8 L673.6,415.0 L678.6,406.7 L680.3,395.0 L681.9,384.3 L683.6,395.0 L687.0,423.4 L692.0,425.9 L696.1,418.4 L698.6,403.4 L700.3,395.0 L701.1,391.0 L703.3,400.0 L706.7,406.7 L709.2,416.7 L710.9,453.5 L712.0,479.3 L714.2,437.6 L716.7,478.5 L719.2,458.5 L721.7,445.1 L725.1,433.4 L728.4,433.4 L730.9,426.7 L733.4,443.4 L735.9,450.1 L738.8,481.0 L741.8,441.8 L744.3,455.1 L747.6,478.5 L749.8,454.3 L752.1,463.5 L754.3,428.4 L756.8,403.4 L758.5,391.0 L761.0,401.7 L764.3,415.0 L766.8,420.1 L769.3,438.4 L771.8,450.1 L774.3,469.3 L777.7,462.6 L780.2,459.3 L781.8,412.5 L785.2,411.7 L786.9,445.1 L788.5,461.0 L790.2,455.1 L792.7,483.5 L796.0,452.6 L798.9,446.8 L801.1,466.8 L803.6,462.6 L805.6,483.5 L810.0,482.6 L811.4,466.8 L812.5,458.4 L814.2,482.6 L815.9,482.6 L817.5,461.8 L820.9,461.8 L824.2,464.3 L825.4,469.3 L828.1,465.1 L830.9,428.4 L834.2,398.3 L837.1,401.7 L838.4,436.7 L840.1,461.8 L842.1,481.8 L844.3,473.5 L846.8,458.4 L848.1,453.4 L850.1,466.8 L852.6,466.8 L854.3,458.4 L855.9,436.7 L858.8,403.3 L861.0,404.2 L862.6,428.4 L865.1,453.4 L867.1,466.8 L869.3,475.1 L871.8,467.6 L875.1,473.5 L876.0,482.6 L878.5,482.6 L880.2,480.1" fill="none" stroke="#0000ff" stroke-width="2.1" stroke-linejoin="round" stroke-linecap="butt"/>
<line x1="376.3" y1="51.2" x2="451.2" y2="51.2" stroke="#ff0000" stroke-width="2"/>
<line x1="376.3" y1="96.0" x2="451.2" y2="96.0" stroke="#00ff00" stroke-width="2"/>
<line x1="376.3" y1="147.2" x2="451.2" y2="147.2" stroke="#0000ff" stroke-width="2"/>
<g font-family="Liberation Serif, serif" fill="#000" font-size="33">
<text x="458.5" y="63.3">ε=0</text>
<text x="458.5" y="106.7">ε<tspan font-size="21" dy="8.6">uni.(y)</tspan><tspan dy="-8.6">=3%</tspan></text>
<text x="458.5" y="157.2">ε<tspan font-size="21" dy="8.6">uni.(y)</tspan><tspan dy="-8.6">=6%</tspan></text>
</g>
<g font-family="Liberation Serif, serif" fill="#000" font-size="38" text-anchor="middle">
<text x="125.3" y="526.6">0</text>
<text x="200.9" y="526.6">3</text>
<text x="276.5" y="526.6">6</text>
<text x="352.0" y="526.6">9</text>
<text x="427.6" y="526.6">12</text>
<text x="503.2" y="526.6">15</text>
<text x="578.8" y="526.6">18</text>
<text x="654.4" y="526.6">21</text>
<text x="729.9" y="526.6">24</text>
<text x="805.5" y="526.6">27</text>
<text x="881.1" y="526.6">30</text>
</g>
<g font-family="Liberation Serif, serif" fill="#000" font-size="38">
<text x="112" y="33.3" text-anchor="end">10<tspan font-size="26.5" dy="-15.6">-4</tspan></text>
<text x="112" y="131.0" text-anchor="end">10<tspan font-size="26.5" dy="-15.6">-6</tspan></text>
<text x="112" y="228.8" text-anchor="end">10<tspan font-size="26.5" dy="-15.6">-8</tspan></text>
<text x="112" y="326.5" text-anchor="end">10<tspan font-size="26.5" dy="-15.6">-10</tspan></text>
<text x="112" y="424.3" text-anchor="end">10<tspan font-size="26.5" dy="-15.6">-12</tspan></text>
</g>
<text font-family="Liberation Serif, serif" font-size="41.6" x="499.3" y="580.2" text-anchor="middle">Order</text>
<text font-family="Liberation Serif, serif" font-size="41" transform="translate(28.8,242) rotate(-90)" text-anchor="middle">Intensity</text>
</g>
</svg>
</body></html>
